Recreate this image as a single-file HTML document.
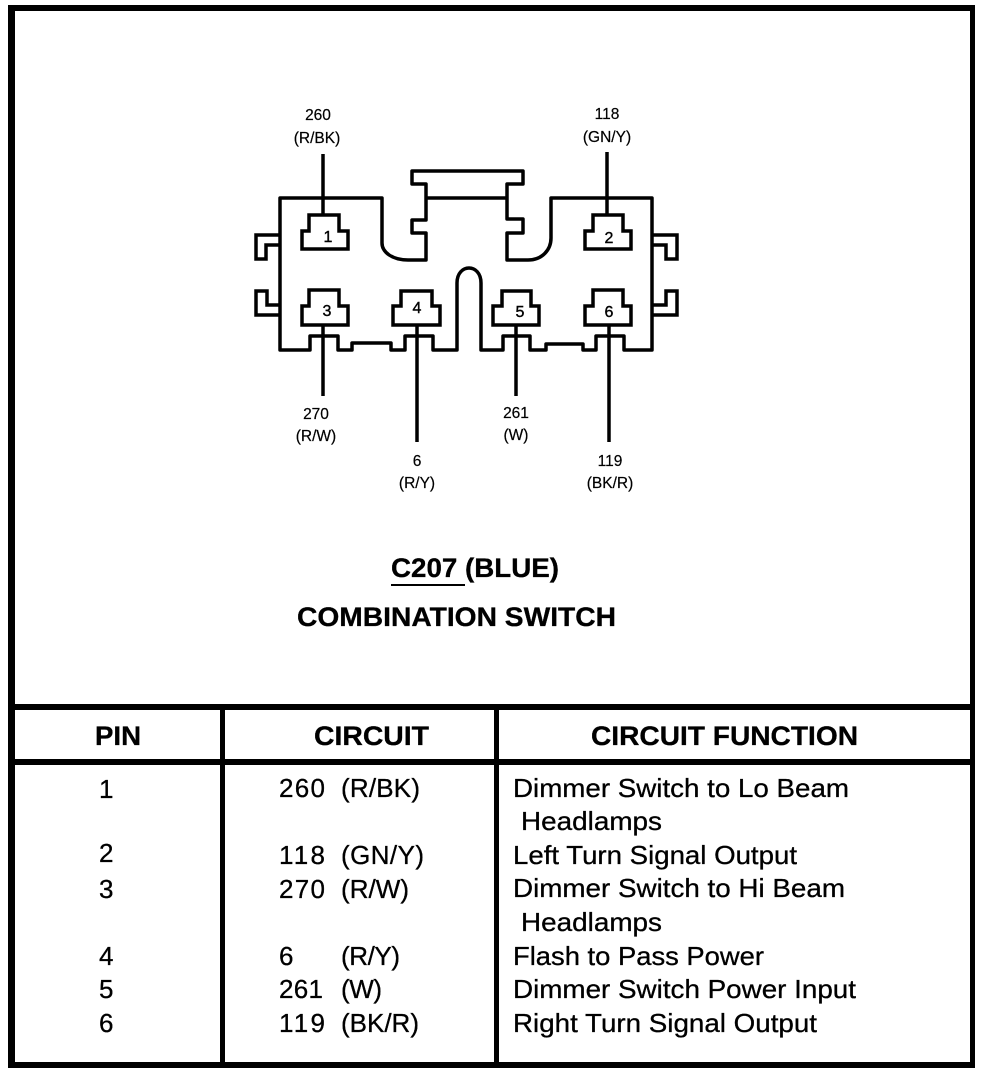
<!DOCTYPE html>
<html><head><meta charset="utf-8"><style>
html,body{margin:0;padding:0;background:#fff}
svg{display:block}
text{font-family:"Liberation Sans",sans-serif;fill:#000}
.s{font-size:15.5px;text-anchor:middle;stroke:#000;stroke-width:.2}
.n{font-size:16px;text-anchor:middle;stroke:#000;stroke-width:.4}
.b{font-size:27px;font-weight:bold;stroke:#000;stroke-width:.3}
.h{font-size:27px;font-weight:bold;stroke:#000;stroke-width:.3}
.t{font-size:26px;stroke:#000;stroke-width:.3}
</style></head><body>
<svg width="992" height="1074" viewBox="0 0 992 1074" xmlns="http://www.w3.org/2000/svg">
<rect width="992" height="1074" fill="#fff"/>
<g fill="#000">
<rect x="8" y="5" width="967" height="6"/>
<rect x="8" y="1062" width="967" height="6"/>
<rect x="8" y="5" width="7" height="1063"/>
<rect x="970" y="5" width="5" height="1063"/>
<rect x="8" y="704" width="967" height="6"/>
<rect x="8" y="759" width="967" height="6"/>
<rect x="220" y="704" width="5" height="360"/>
<rect x="494" y="704" width="5" height="360"/>
</g>
<g fill="none" stroke="#000">
<path stroke-width="3.5" stroke-linejoin="round" d="M280 198H382V243C382 252 392 260 408 260H426V233H412V220H426V184H412V171H523V184H507V219H523V233H507V260H528C542 260 551 250 551 238V198H652V350H624V336H596V350H583V344H546V350H530V336H503V350H481V283C481 263 457 263 457 283V350H433V336H405V350H391V343H352V350H338V336H310V350H280Z"/>
<path stroke-width="3.5" d="M426 198H507"/>
<path stroke-width="3.5" d="M280 235H256V259H266V245H280M280 305H267V291H256V315H280M652 235H677V259H666V245H652M652 305H666V291H677V315H652"/>
<path stroke-width="3.5" d="M309 215H339V231H348V249H302V231H309Z"/>
<path stroke-width="3.5" d="M593 215H623V231H631V249H585V231H593Z"/>
<path stroke-width="3.5" d="M309 290H339V306H348V325H302V306H309Z"/>
<path stroke-width="3.5" d="M401 291H432V306H440V325H393V306H401Z"/>
<path stroke-width="3.5" d="M502 291H531V306H539V325H493V306H502Z"/>
<path stroke-width="3.5" d="M593 290H623V306H631V325H585V306H593Z"/>
<path stroke-width="3.5" d="M323 154V215M607 152V215M323 325V396M417 325V442M516 325V396M609 325V442"/>
<path stroke-width="2" d="M391 585H465"/>
</g>
<text class="n" x="328" y="242">1</text>
<text class="n" x="609" y="243">2</text>
<text class="n" x="327" y="316">3</text>
<text class="n" x="417" y="313">4</text>
<text class="n" x="520" y="317">5</text>
<text class="n" x="609" y="317">6</text>
<text class="s" x="318" y="120">260</text>
<text class="s" x="317" y="143">(R/BK)</text>
<text class="s" x="607" y="119">118</text>
<text class="s" x="607" y="142">(GN/Y)</text>
<text class="s" x="316" y="419">270</text>
<text class="s" x="316" y="441">(R/W)</text>
<text class="s" x="516" y="418">261</text>
<text class="s" x="516" y="440">(W)</text>
<text class="s" x="417" y="466">6</text>
<text class="s" x="417" y="488">(R/Y)</text>
<text class="s" x="610" y="466">119</text>
<text class="s" x="610" y="488">(BK/R)</text>
<text class="b" x="391" y="577" textLength="168" lengthAdjust="spacingAndGlyphs">C207 (BLUE)</text>
<text class="b" x="297" y="626" textLength="319" lengthAdjust="spacingAndGlyphs">COMBINATION SWITCH</text>
<text class="h" x="95" y="745" textLength="46" lengthAdjust="spacingAndGlyphs">PIN</text>
<text class="h" x="314" y="745" textLength="115" lengthAdjust="spacingAndGlyphs">CIRCUIT</text>
<text class="h" x="591" y="745" textLength="267" lengthAdjust="spacingAndGlyphs">CIRCUIT FUNCTION</text>
<g class="t">
<text x="99" y="798">1</text><text x="279" y="797" textLength="46">260</text><text x="341" y="797" textLength="79">(R/BK)</text>
<text x="513" y="797" textLength="336" lengthAdjust="spacingAndGlyphs">Dimmer Switch to Lo Beam</text>
<text x="521" y="830" textLength="141" lengthAdjust="spacingAndGlyphs">Headlamps</text>
<text x="99" y="862">2</text><text x="279" y="864" textLength="46">118</text><text x="341" y="864" textLength="83">(GN/Y)</text>
<text x="513" y="864" textLength="284" lengthAdjust="spacingAndGlyphs">Left Turn Signal Output</text>
<text x="99" y="898">3</text><text x="279" y="898" textLength="46">270</text><text x="341" y="898" textLength="68">(R/W)</text>
<text x="513" y="897" textLength="332" lengthAdjust="spacingAndGlyphs">Dimmer Switch to Hi Beam</text>
<text x="521" y="931" textLength="141" lengthAdjust="spacingAndGlyphs">Headlamps</text>
<text x="99" y="965">4</text><text x="279" y="965">6</text><text x="341" y="965" textLength="59">(R/Y)</text>
<text x="513" y="965" textLength="251" lengthAdjust="spacingAndGlyphs">Flash to Pass Power</text>
<text x="99" y="998">5</text><text x="279" y="998" textLength="44">261</text><text x="341" y="998" textLength="41">(W)</text>
<text x="513" y="998" textLength="343" lengthAdjust="spacingAndGlyphs">Dimmer Switch Power Input</text>
<text x="99" y="1032">6</text><text x="279" y="1032" textLength="46">119</text><text x="341" y="1032" textLength="78">(BK/R)</text>
<text x="513" y="1032" textLength="304" lengthAdjust="spacingAndGlyphs">Right Turn Signal Output</text>
</g>
</svg>
</body></html>
